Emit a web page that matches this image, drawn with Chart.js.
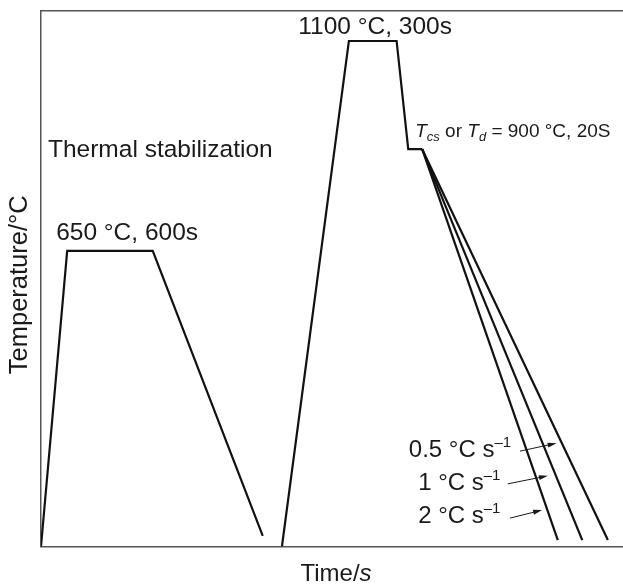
<!DOCTYPE html>
<html>
<head>
<meta charset="utf-8">
<script src="https://cdn.jsdelivr.net/npm/chart.js@4"></script>
<style>
  html, body { margin: 0; padding: 0; background: #fff; }
  canvas { display: block; }
</style>
</head>
<body>
<canvas id="chart" width="623" height="585"></canvas>
<script>
// schematic: time and temperature in arbitrary units (0..1000)
const stabTime = [0, 45, 192, 381];
const stabTemp = [0, 552, 552, 20];

const soakTime = [414, 529, 611, 631, 655];
const soakTemp = [0, 944, 944, 742, 742];

const coolRates = ['0.5 °C s', '1 °C s', '2 °C s'];
const coolEndTime = [974, 930, 888];
const coolEndTemp = [12, 12, 12];

const FONT = '"Liberation Sans", Arial, Helvetica, sans-serif';
const INK = '#1a1a1a';

const toPts = (xs, ys) => xs.map((x, i) => ({ x, y: ys[i] }));

const lineStyle = {
  borderColor: '#111',
  borderWidth: 2.2,
  pointRadius: 0,
  tension: 0,
  borderJoinStyle: 'miter',
  fill: false
};

const datasets = [
  { label: 'Thermal stabilization', data: toPts(stabTime, stabTemp), ...lineStyle },
  { label: 'Austenitization', data: toPts(soakTime, soakTemp), ...lineStyle }
];
coolRates.forEach((r, i) => {
  const last = soakTime.length - 1;
  datasets.push({
    label: r,
    data: toPts([soakTime[last], coolEndTime[i]], [soakTemp[last], coolEndTemp[i]]),
    ...lineStyle
  });
});

// text pieces: [text, size, italic, dy]
function drawRich(ctx, x, y, parts) {
  let cx = x;
  parts.forEach(([t, size, italic, dy]) => {
    ctx.font = (italic ? 'italic ' : '') + size + 'px ' + FONT;
    ctx.fillText(t, cx, y + (dy || 0));
    cx += ctx.measureText(t).width;
  });
  return cx;
}

function arrow(ctx, x1, y1, x2, y2) {
  const a = Math.atan2(y2 - y1, x2 - x1);
  ctx.beginPath();
  ctx.moveTo(x1, y1);
  ctx.lineTo(x2 - 6 * Math.cos(a), y2 - 6 * Math.sin(a));
  ctx.lineWidth = 1;
  ctx.strokeStyle = INK;
  ctx.stroke();
  ctx.beginPath();
  ctx.moveTo(x2, y2);
  ctx.lineTo(x2 - 9 * Math.cos(a) + 2.5 * Math.sin(a), y2 - 9 * Math.sin(a) - 2.5 * Math.cos(a));
  ctx.lineTo(x2 - 9 * Math.cos(a) - 2.5 * Math.sin(a), y2 - 9 * Math.sin(a) + 2.5 * Math.cos(a));
  ctx.closePath();
  ctx.fillStyle = INK;
  ctx.fill();
}

const notes = {
  id: 'notes',
  afterDraw(chart) {
    const { ctx, scales: { x, y } } = chart;
    const X = v => x.getPixelForValue(v);
    const Y = v => y.getPixelForValue(v);
    ctx.save();
    ctx.fillStyle = INK;
    ctx.textBaseline = 'alphabetic';
    ctx.textAlign = 'left';

    drawRich(ctx, X(442), Y(957), [['1100 °C, 300s', 24.5]]);
    drawRich(ctx, X(12), Y(727), [['Thermal stabilization', 24.5]]);
    drawRich(ctx, X(26), Y(572), [['650 °C, 600s', 24.5]]);
    drawRich(ctx, X(643), Y(765), [
      ['T', 19, true], ['cs', 13, true, 4], [' or ', 19], ['T', 19, true], ['d', 13, true, 4],
      [' = 900 °C, 20S', 19]
    ]);

    // cooling-rate labels with arrows
    const rateAnchors = [[632, 167], [648, 105], [648, 44]];
    const arrows = [[823, 178, 886, 193], [802, 117, 871, 132], [806, 53, 861, 68]];
    coolRates.forEach((r, i) => {
      ctx.fillStyle = INK;
      drawRich(ctx, X(rateAnchors[i][0]), Y(rateAnchors[i][1]), [[r, 24], ['\u20131', 15, false, -10]]);
      const a = arrows[i];
      arrow(ctx, X(a[0]), Y(a[1]), X(a[2]), Y(a[3]));
    });

    // axis titles
    ctx.fillStyle = INK;
    ctx.font = '24px ' + FONT;
    const w1 = ctx.measureText('Time/').width;
    ctx.font = 'italic 24px ' + FONT;
    const w2 = ctx.measureText('s').width;
    const cx = (chart.chartArea.left + chart.chartArea.right) / 2 + 4;
    drawRich(ctx, cx - (w1 + w2) / 2, 581, [['Time/', 24], ['s', 24, true]]);

    ctx.translate(27, (chart.chartArea.top + chart.chartArea.bottom) / 2 + 6);
    ctx.rotate(-Math.PI / 2);
    ctx.font = '25.5px ' + FONT;
    ctx.textAlign = 'center';
    ctx.fillText('Temperature/°C', 0, 0);
    ctx.restore();
  }
};

const axisBorder = { display: true, color: '#555', width: 1.5 };
const zeroH = s => { s.height = 0; };

new Chart(document.getElementById('chart'), {
  type: 'line',
  data: { datasets },
  options: {
    responsive: false,
    animation: false,
    layout: { padding: { left: 41, top: 11, right: 0, bottom: 38.5 } },
    plugins: { legend: { display: false }, tooltip: { enabled: false } },
    scales: {
      x: {
        type: 'linear', position: 'bottom', min: 0, max: 1000,
        ticks: { display: false }, grid: { display: false }, border: axisBorder,
        afterFit: zeroH
      },
      xTop: {
        type: 'linear', axis: 'x', position: 'top', min: 0, max: 1000,
        ticks: { display: false }, grid: { display: false }, border: axisBorder,
        afterFit: zeroH
      },
      y: {
        type: 'linear', position: 'left', min: 0, max: 1000,
        ticks: { display: false }, grid: { display: false }, border: axisBorder,
        afterFit: s => { s.width = 0; }
      }
    }
  },
  plugins: [notes]
});
</script>
</body>
</html>
